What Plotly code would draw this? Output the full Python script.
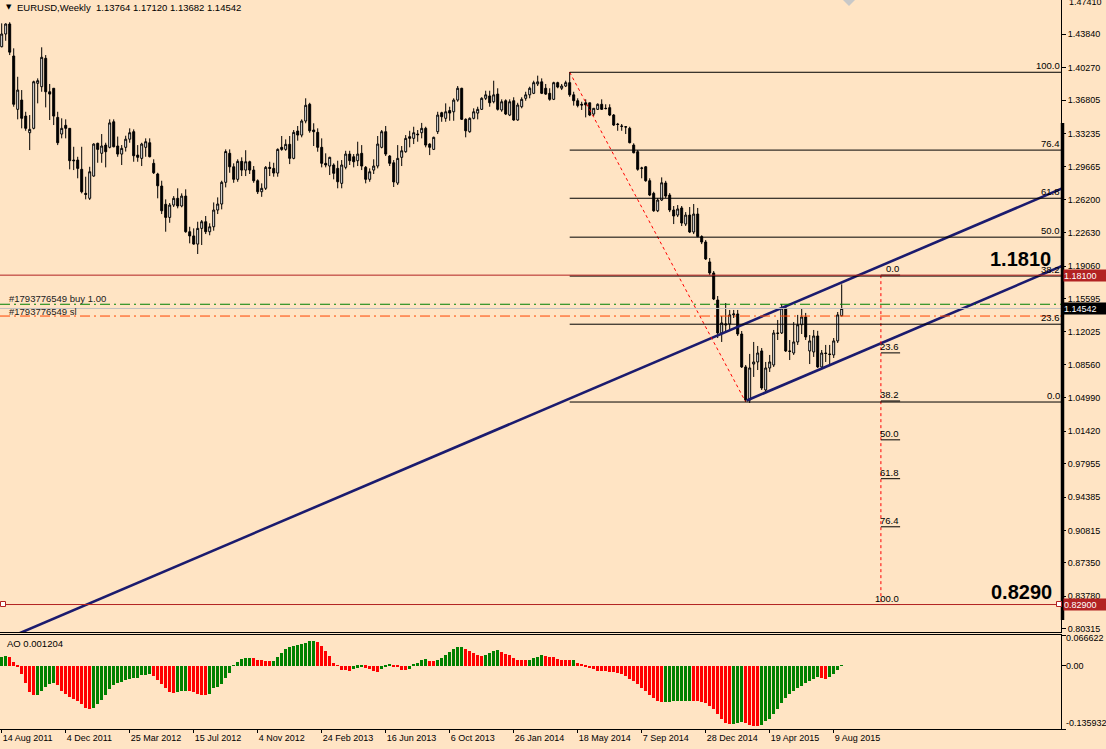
import pandas as pd
import plotly.graph_objects as go

# ---------------- data ----------------
weeks = pd.date_range("2011-08-14", periods=211, freq="7D")

opens = [1.4251,1.4387,1.4494,1.4152,1.3582,1.3681,1.3510,1.3332,1.3379,1.3860,
         1.3824,1.4127,1.3770,1.3807,1.3496,1.3318,1.3411,1.3379,1.3040,1.3040,
         1.2941,1.2684,1.2631,1.2869,1.3219,1.3112,1.3200,1.3176,1.3449,1.3190,
         1.3104,1.3176,1.3263,1.3343,1.3093,1.3058,1.3176,1.3225,1.3005,1.2891,
         1.2762,1.2567,1.2427,1.2559,1.2631,1.2549,1.2655,1.2274,1.2229,1.2142,
         1.2310,1.2381,1.2274,1.2327,1.2506,1.2570,1.2802,1.3112,1.2968,1.2834,
         1.3026,1.2933,1.3022,1.2933,1.2819,1.2701,1.2738,1.2962,1.2951,1.2901,
         1.3176,1.3154,1.3208,1.3058,1.3350,1.3307,1.3457,1.3636,1.3361,1.3336,
         1.3176,1.3005,1.2976,1.2987,1.2951,1.2791,1.2962,1.3104,1.3075,1.3033,
         1.3112,1.2962,1.2834,1.2933,1.2976,1.3176,1.3343,1.3083,1.3011,1.2794,
         1.3069,1.3129,1.3290,1.3272,1.3318,1.3332,1.3379,1.3211,1.3154,1.3343,
         1.3546,1.3486,1.3569,1.3556,1.3681,1.3807,1.3475,1.3343,1.3486,1.3542,
         1.3582,1.3700,1.3725,1.3663,1.3745,1.3575,1.3674,1.3521,1.3674,1.3468,
         1.3610,1.3700,1.3737,1.3753,1.3853,1.3876,1.3807,1.3753,1.3689,1.3867,
         1.3807,1.3831,1.3867,1.3737,1.3674,1.3636,1.3652,1.3652,1.3532,1.3582,
         1.3636,1.3593,1.3600,1.3521,1.3425,1.3404,1.3396,1.3379,1.3200,1.3129,
         1.2951,1.2968,1.2819,1.2684,1.2498,1.2613,1.2795,1.2666,1.2506,1.2452,
         1.2528,1.2356,1.2452,1.2271,1.2463,1.2222,1.2164,1.1951,1.1833,1.1544,
         1.1192,1.1277,1.1288,1.1385,1.1395,1.1181,1.0829,1.0476,1.0860,1.0882,
         1.1000,1.0583,1.0818,1.0850,1.1192,1.1192,1.1459,1.1000,1.0978,1.1096,
         1.1280,1.1363,1.1000,1.0989,1.1160,1.0829,1.0978,1.0968,1.0957,1.1107,
         1.13764]
highs = [1.4501,1.4501,1.4513,1.4234,1.3930,1.3788,1.3556,1.3521,1.3888,1.3913,
         1.4245,1.4162,1.3853,1.3807,1.3556,1.3486,1.3475,1.3379,1.3182,1.3075,
         1.3182,1.2862,1.2968,1.3219,1.3225,1.3318,1.3225,1.3475,1.3475,1.3291,
         1.3200,1.3300,1.3379,1.3368,1.3200,1.3225,1.3272,1.3272,1.3048,1.2904,
         1.2819,1.2620,1.2581,1.2655,1.2738,1.2684,1.2727,1.2327,1.2310,1.2381,
         1.2399,1.2442,1.2364,1.2587,1.2641,1.2819,1.3154,1.3154,1.3005,1.3048,
         1.3069,1.3145,1.3033,1.2976,1.2834,1.2791,1.2976,1.3022,1.3011,1.3165,
         1.3297,1.3261,1.3297,1.3361,1.3404,1.3475,1.3700,1.3652,1.3433,1.3379,
         1.3272,1.3112,1.3075,1.3005,1.3033,1.3040,1.3139,1.3139,1.3104,1.3236,
         1.3200,1.2976,1.2951,1.3048,1.3297,1.3361,1.3404,1.3093,1.3040,1.3200,
         1.3190,1.3307,1.3353,1.3396,1.3361,1.3437,1.3396,1.3219,1.3290,1.3556,
         1.3556,1.3646,1.3610,1.3700,1.3831,1.3812,1.3486,1.3496,1.3593,1.3610,
         1.3711,1.3781,1.3781,1.3888,1.3807,1.3689,1.3689,1.3689,1.3711,1.3652,
         1.3711,1.3770,1.3824,1.3888,1.3942,1.3913,1.3853,1.3807,1.3877,1.3877,
         1.3853,1.3888,1.3981,1.3770,1.3700,1.3663,1.3689,1.3652,1.3596,1.3646,
         1.3689,1.3636,1.3636,1.3532,1.3437,1.3425,1.3404,1.3396,1.3219,1.3147,
         1.2968,1.2976,1.2845,1.2701,1.2634,1.2855,1.2818,1.2687,1.2549,1.2559,
         1.2549,1.2484,1.2538,1.2570,1.2528,1.2236,1.2185,1.1993,1.1854,1.1587,
         1.1374,1.1512,1.1438,1.1438,1.1438,1.1213,1.0850,1.0968,1.1096,1.1053,
         1.1031,1.0882,1.0957,1.1224,1.1331,1.1502,1.1480,1.1117,1.1309,1.1385,
         1.1448,1.1406,1.1170,1.1224,1.1215,1.1010,1.1064,1.1064,1.1138,1.1416,
         1.17120]
lows = [1.4245,1.4315,1.4162,1.3610,1.3475,1.3379,1.3353,1.3147,1.3368,1.3646,
        1.3770,1.3603,1.3468,1.3414,1.3200,1.3272,1.3272,1.2941,1.2933,1.2845,
        1.2684,1.2620,1.2613,1.2862,1.3011,1.3011,1.2962,1.3165,1.3176,1.3075,
        1.2987,1.3131,1.3225,1.3022,1.3022,1.2976,1.3075,1.3069,1.2891,1.2631,
        1.2463,1.2274,1.2370,1.2538,1.2524,1.2535,1.2263,1.2150,1.2135,1.2036,
        1.2132,1.2249,1.2236,1.2285,1.2463,1.2513,1.2748,1.2904,1.2797,1.2808,
        1.2869,1.2869,1.2891,1.2797,1.2677,1.2647,1.2720,1.2869,1.2862,1.2862,
        1.3139,1.3139,1.2997,1.3048,1.3247,1.3283,1.3433,1.3332,1.3190,1.3129,
        1.2962,1.2962,1.2880,1.2834,1.2738,1.2738,1.2941,1.2987,1.2962,1.2976,
        1.2933,1.2791,1.2808,1.2891,1.2951,1.3165,1.3083,1.2976,1.2752,1.2773,
        1.2976,1.3118,1.3176,1.3211,1.3236,1.3272,1.3176,1.3093,1.3147,1.3318,
        1.3449,1.3449,1.3460,1.3460,1.3663,1.3468,1.3283,1.3332,1.3475,1.3475,
        1.3575,1.3681,1.3610,1.3646,1.3569,1.3556,1.3521,1.3510,1.3460,1.3460,
        1.3593,1.3674,1.3700,1.3745,1.3831,1.3745,1.3737,1.3674,1.3681,1.3807,
        1.3788,1.3820,1.3716,1.3622,1.3603,1.3575,1.3496,1.3510,1.3510,1.3575,
        1.3575,1.3582,1.3510,1.3404,1.3353,1.3353,1.3318,1.3219,1.3112,1.2926,
        1.2845,1.2808,1.2655,1.2487,1.2484,1.2602,1.2634,1.2484,1.2356,1.2431,
        1.2335,1.2335,1.2260,1.2249,1.2215,1.2142,1.1972,1.1812,1.1544,1.1138,
        1.1096,1.1192,1.1224,1.1352,1.1160,1.0818,1.0454,1.0444,1.0722,1.0796,
        1.0583,1.0561,1.0775,1.0829,1.1117,1.1181,1.0989,1.0903,1.0957,1.1064,
        1.1181,1.1117,1.0860,1.0936,1.0818,1.0807,1.0882,1.0860,1.0925,1.1085,
        1.13682]
closes = [1.4387,1.4494,1.4193,1.3636,1.3788,1.3486,1.3379,1.3368,1.3877,1.3888,
          1.4138,1.3770,1.3745,1.3510,1.3225,1.3379,1.3379,1.3033,1.3033,1.2951,
          1.2701,1.2673,1.2915,1.3211,1.3154,1.3190,1.3129,1.3437,1.3182,1.3104,
          1.3165,1.3263,1.3332,1.3086,1.3069,1.3211,1.3236,1.3075,1.2904,1.2765,
          1.2498,1.2427,1.2559,1.2631,1.2549,1.2655,1.2274,1.2229,1.2142,1.2310,
          1.2381,1.2274,1.2327,1.2506,1.2570,1.2802,1.3131,1.2968,1.2834,1.3026,
          1.2933,1.3022,1.2933,1.2819,1.2701,1.2738,1.2962,1.2951,1.2901,1.3154,
          1.3154,1.3208,1.3058,1.3336,1.3307,1.3457,1.3625,1.3353,1.3343,1.3176,
          1.3005,1.2987,1.3069,1.2898,1.2808,1.2987,1.3104,1.3033,1.3022,1.3104,
          1.2976,1.2834,1.2915,1.2976,1.3211,1.3343,1.3104,1.3005,1.2806,1.3058,
          1.3139,1.3272,1.3272,1.3332,1.3311,1.3379,1.3200,1.3176,1.3283,1.3521,
          1.3503,1.3556,1.3542,1.3681,1.3807,1.3475,1.3353,1.3486,1.3556,1.3582,
          1.3700,1.3737,1.3652,1.3737,1.3582,1.3663,1.3532,1.3663,1.3468,1.3628,
          1.3689,1.3737,1.3807,1.3867,1.3876,1.3753,1.3745,1.3689,1.3867,1.3820,
          1.3831,1.3867,1.3737,1.3674,1.3622,1.3628,1.3628,1.3521,1.3593,1.3636,
          1.3582,1.3590,1.3521,1.3414,1.3420,1.3400,1.3393,1.3225,1.3118,1.2941,
          1.2955,1.2819,1.2666,1.2498,1.2613,1.2797,1.2655,1.2506,1.2442,1.2517,
          1.2367,1.2452,1.2271,1.2463,1.2222,1.2164,1.1983,1.1833,1.1555,1.1192,
          1.1299,1.1288,1.1385,1.1395,1.1181,1.0829,1.0476,1.0818,1.0882,1.0978,
          1.0604,1.0818,1.0882,1.1192,1.1188,1.1459,1.1000,1.0995,1.1096,1.1280,
          1.1363,1.1149,1.1107,1.1160,1.0829,1.0978,1.0973,1.0962,1.1107,1.1385,
          1.14542]

ao = [0.0203,0.0218,0.0182,0.0087,-0.0007,-0.0182,-0.0363,-0.0566,-0.0624,-0.0617,
      -0.0545,-0.0457,-0.0392,-0.0378,-0.0414,-0.0545,-0.0603,-0.0668,-0.0704,-0.0762,
      -0.0820,-0.0908,-0.0922,-0.0908,-0.0820,-0.0726,-0.0617,-0.0508,-0.0421,-0.0363,
      -0.0341,-0.0312,-0.0276,-0.0269,-0.0254,-0.0203,-0.0189,-0.0182,-0.0218,-0.0312,
      -0.0399,-0.0472,-0.0566,-0.0581,-0.0566,-0.0545,-0.0530,-0.0545,-0.0559,-0.0603,
      -0.0617,-0.0624,-0.0603,-0.0486,-0.0457,-0.0385,-0.0254,-0.0145,0.0015,0.0094,
      0.0145,0.0160,0.0174,0.0160,0.0138,0.0123,0.0109,0.0102,0.0116,0.0182,
      0.0276,0.0363,0.0399,0.0436,0.0457,0.0472,0.0494,0.0530,0.0545,0.0508,
      0.0436,0.0327,0.0218,0.0073,0.0015,-0.0087,-0.0094,-0.0102,-0.0073,-0.0036,
      -0.0007,-0.0036,-0.0073,-0.0116,-0.0123,-0.0058,-0.0015,0.0022,-0.0007,-0.0022,
      -0.0087,-0.0094,-0.0073,0.0022,0.0073,0.0138,0.0145,0.0116,0.0109,0.0138,
      0.0167,0.0225,0.0290,0.0363,0.0407,0.0414,0.0363,0.0319,0.0276,0.0225,
      0.0218,0.0240,0.0283,0.0327,0.0334,0.0298,0.0261,0.0225,0.0174,0.0138,
      0.0131,0.0123,0.0138,0.0167,0.0203,0.0225,0.0218,0.0203,0.0196,0.0152,
      0.0138,0.0131,0.0123,0.0131,0.0065,0.0029,-0.0007,-0.0044,-0.0073,-0.0102,
      -0.0109,-0.0116,-0.0123,-0.0131,-0.0145,-0.0182,-0.0218,-0.0276,-0.0327,-0.0399,
      -0.0472,-0.0545,-0.0617,-0.0690,-0.0748,-0.0784,-0.0777,-0.0770,-0.0762,-0.0759,
      -0.0755,-0.0751,-0.0748,-0.0755,-0.0762,-0.0770,-0.0799,-0.0871,-0.0937,-0.1045,
      -0.1154,-0.1227,-0.1249,-0.1241,-0.1220,-0.1198,-0.1227,-0.1263,-0.1285,-0.1292,
      -0.1263,-0.1191,-0.1133,-0.1045,-0.0937,-0.0791,-0.0682,-0.0610,-0.0537,-0.0465,
      -0.0428,-0.0378,-0.0319,-0.0276,-0.0240,-0.0269,-0.0276,-0.0247,-0.0174,-0.0094,
      0.001204]

tick_labels = ["14 Aug 2011", "4 Dec 2011", "25 Mar 2012", "15 Jul 2012", "4 Nov 2012",
               "24 Feb 2013", "16 Jun 2013", "6 Oct 2013", "26 Jan 2014", "18 May 2014",
               "7 Sep 2014", "28 Dec 2014", "19 Apr 2015", "9 Aug 2015"]
price_ticks = [1.47410, 1.43840, 1.40270, 1.36805, 1.33235, 1.29665, 1.26200, 1.22630,
               1.19060, 1.15595, 1.12025, 1.08560, 1.04990, 1.01420, 0.97955, 0.94385,
               0.90815, 0.87350, 0.83780, 0.80315]
price_tick_text = ["%.5f" % v for v in price_ticks]

ao_ticks = [0.066622, 0.0, -0.135932]
ao_tick_text = ["0.066622", "0.00", "-0.135932"]

# drawn objects
fib_levels = [0.0, 23.6, 38.2, 50.0, 61.8, 76.4, 100.0]
fib_high, fib_low = 1.3978, 1.0454          # retracement anchors
fib_high_week, fib_low_week = 142, 186
exp_top, exp_bottom = 1.1810, 0.8290        # expansion anchors
exp_week, exp_week_end = 219.8, 224.6
channel_upper = [(0.0, 0.7902), (265.0, 1.2735)]
channel_lower = [(186.25, 1.0470), (265.0, 1.1906)]
resistance, target = 1.18100, 0.82900
bid = 1.14542
order_price, order_sl = 1.14990, 1.13730
header = "EURUSD,Weekly  1.13764 1.17120 1.13682 1.14542"
ao_title = "AO 0.001204"

# ---------------- layout helpers ----------------
W, H = 1106, 749
PLOT_R = 1061      # right edge of plot area
PLOT_B = 729       # bottom of plot area
t0 = weeks[0]
def wk(k):
    return t0 + pd.Timedelta(days=7 * k)
def px(xp):
    return xp / PLOT_R
def py(yp):
    return (PLOT_B - yp) / PLOT_B

x_left, x_right = wk(-0.425), wk(264.825)
y_main = [0.79963, 1.47505]

FONT = "Liberation Sans, Arial, sans-serif"
fs = 9.5      # chart texts
fst = 9       # scale labels
RED = "#B22222"
NAVY = "#1B1B6E"

fig = go.Figure()

fig.add_trace(go.Candlestick(
    x=weeks, open=opens, high=highs, low=lows, close=closes,
    increasing=dict(line=dict(color="black", width=1), fillcolor="white"),
    decreasing=dict(line=dict(color="black", width=1), fillcolor="black"),
    whiskerwidth=0, hoverinfo="skip", showlegend=False, xaxis="x", yaxis="y"))

colors = ["#008000"]
for i in range(1, len(ao)):
    colors.append("#008000" if ao[i] > ao[i - 1] else "#FF0000")
fig.add_trace(go.Bar(x=weeks, y=ao, marker=dict(color=colors, line=dict(width=0)),
                     width=0.78 * 7 * 86400000, showlegend=False, hoverinfo="skip",
                     xaxis="x2", yaxis="y2"))

# channel lines
for pts in (channel_upper, channel_lower):
    fig.add_trace(go.Scatter(x=[wk(pts[0][0]), wk(pts[1][0])], y=[pts[0][1], pts[1][1]],
                             mode="lines", line=dict(color=NAVY, width=2.6),
                             showlegend=False, hoverinfo="skip", xaxis="x", yaxis="y"))
# fibo trend line
fig.add_trace(go.Scatter(x=[wk(fib_high_week), wk(fib_low_week)], y=[fib_high, fib_low],
                         mode="lines", line=dict(color="red", width=1, dash="dot"),
                         showlegend=False, hoverinfo="skip", xaxis="x", yaxis="y"))
# expansion vertical
fig.add_trace(go.Scatter(x=[wk(exp_week), wk(exp_week)], y=[exp_top, exp_bottom],
                         mode="lines", line=dict(color="red", width=1, dash="dot"),
                         showlegend=False, hoverinfo="skip", xaxis="x", yaxis="y"))

shapes = []
annotations = []

# fib retracement levels
for lv in fib_levels:
    p = fib_low + (fib_high - fib_low) * lv / 100.0
    shapes.append(dict(type="line", xref="x", yref="y", x0=wk(fib_high_week), x1=x_right,
                       y0=p, y1=p, line=dict(color="black", width=1)))
    annotations.append(dict(xref="paper", yref="y", x=1.0, y=p, xanchor="right",
                            yanchor="bottom", text="%.1f" % lv, showarrow=False,
                            font=dict(family=FONT, size=fs, color="black"), borderpad=0))
# fib expansion levels
for lv in fib_levels:
    p = exp_top - (exp_top - exp_bottom) * lv / 100.0
    shapes.append(dict(type="line", xref="x", yref="y", x0=wk(exp_week), x1=wk(exp_week_end),
                       y0=p, y1=p, line=dict(color="black", width=1)))
    annotations.append(dict(xref="x", yref="y", x=wk(exp_week_end), y=p, xanchor="right",
                            yanchor="bottom", text="%.1f" % lv, showarrow=False,
                            font=dict(family=FONT, size=fs, color="black"), borderpad=0))

def hline(price, color, dash="solid", width=1):
    shapes.append(dict(type="line", xref="paper", yref="y", x0=0, x1=1, y0=price, y1=price,
                       line=dict(color=color, width=width, dash=dash), layer="above"))

hline(bid, "#C0C0C0")
hline(resistance, RED)
hline(target, RED)
hline(order_price, "#008000", dash="10px,4px,2px,4px")
hline(order_sl, "#FF4500", dash="10px,4px,2px,4px")

# thick right bar
shapes.append(dict(type="line", xref="paper", yref="y", x0=px(1062.5), x1=px(1062.5),
                   y0=1.3436, y1=0.8125, line=dict(color="black", width=3.5)))
# small squares on target line
for xp_ in (3, 1059):
    shapes.append(dict(type="rect", xref="paper", yref="paper", x0=px(xp_ - 2.5), x1=px(xp_ + 2.5),
                       y0=py(601.5), y1=py(606.5), line=dict(color=RED, width=1),
                       fillcolor="white"))
# chart shift marker
shapes.append(dict(type="path", xref="paper", yref="paper",
                   path="M %f,%f L %f,%f L %f,%f Z" % (px(843), py(0), px(855), py(0), px(849), py(6)),
                   fillcolor="#C8C8C8", line=dict(width=0)))

# price tags on axis
for price, txt, bg in ((resistance, "1.18100", RED), (bid, "1.14542", "black"), (target, "0.82900", RED)):
    annotations.append(dict(xref="paper", yref="y", x=px(1062.5), y=price, xanchor="left",
                            yanchor="middle", text=txt, showarrow=False, bgcolor=bg,
                            width=42, height=11, borderpad=0, align="left",
                            font=dict(family=FONT, size=fst, color="white")))
# top scale label (cut by the top edge, as on the terminal)
annotations.append(dict(xref="paper", yref="paper", x=px(1067), y=py(1.5), xanchor="left",
                        yanchor="middle", text=price_tick_text[0], showarrow=False,
                        font=dict(family=FONT, size=fst, color="black")))

# big level texts
annotations.append(dict(xref="paper", yref="paper", x=px(1020), y=py(259), text="<b>1.1810</b>",
                        xanchor="center", yanchor="middle", showarrow=False,
                        font=dict(family=FONT, size=20, color="black")))
annotations.append(dict(xref="paper", yref="paper", x=px(1021), y=py(591.5), text="<b>0.8290</b>",
                        xanchor="center", yanchor="middle", showarrow=False,
                        font=dict(family=FONT, size=20, color="black")))
# order labels
annotations.append(dict(xref="paper", yref="paper", x=px(7), y=py(298.5), xanchor="left",
                        yanchor="middle", text="#1793776549 buy 1.00", showarrow=False,
                        font=dict(family=FONT, size=fs, color="#202020")))
annotations.append(dict(xref="paper", yref="paper", x=px(7), y=py(311), xanchor="left",
                        yanchor="middle", text="#1793776549 sl", showarrow=False,
                        font=dict(family=FONT, size=fs, color="#202020")))
# header
annotations.append(dict(xref="paper", yref="paper", x=px(4), y=py(6.5), xanchor="left",
                        yanchor="middle", text="▼", showarrow=False,
                        font=dict(family="DejaVu Sans", size=7, color="black")))
annotations.append(dict(xref="paper", yref="paper", x=px(15), y=py(7.5), xanchor="left",
                        yanchor="middle", text=header, showarrow=False,
                        font=dict(family=FONT, size=fs, color="black")))
annotations.append(dict(xref="paper", yref="paper", x=px(5), y=py(643.5), xanchor="left",
                        yanchor="middle", text=ao_title, showarrow=False,
                        font=dict(family=FONT, size=fs, color="black")))
# AO scale labels
for v, txt, ypix in zip(ao_ticks, ao_tick_text, (637.5, 665.5, 722.5)):
    annotations.append(dict(xref="paper", yref="paper", x=px(1064), y=py(ypix), xanchor="left",
                            yanchor="middle", text=txt, showarrow=False,
                            font=dict(family=FONT, size=fst, color="black")))

BG = "#FFE4C4"
axis_common = dict(showgrid=False, zeroline=False, linecolor="black", linewidth=1)
fig.update_layout(
    width=W, height=H, margin=dict(l=0, r=W - PLOT_R, t=0, b=H - PLOT_B),
    paper_bgcolor=BG, plot_bgcolor=BG, showlegend=False, bargap=0,
    font=dict(family=FONT, size=fs, color="black"),
    xaxis=dict(domain=[0, 1], anchor="y", range=[x_left, x_right], type="date",
               showticklabels=False, ticks="", showline=True,
               rangeslider=dict(visible=False), **axis_common),
    yaxis=dict(domain=[py(632), 1], anchor="x", side="right", range=y_main,
               tickvals=price_ticks[1:], ticktext=price_tick_text[1:], ticks="outside", ticklen=4,
               tickcolor="black", showline=True, mirror=True,
               tickfont=dict(family=FONT, size=fst, color="black"), **axis_common),
    xaxis2=dict(domain=[0, 1], anchor="y2", matches="x", range=[x_left, x_right], type="date",
                tickvals=list(weeks[::16]), ticktext=tick_labels, ticks="outside", ticklen=3,
                tickcolor="black", ticklabelposition="outside right", showline=True, mirror=True,
                tickfont=dict(family=FONT, size=fst, color="black"), **axis_common),
    yaxis2=dict(domain=[0, py(635)], anchor="x2", side="right", range=[-0.135932, 0.066622],
                tickvals=ao_ticks, showticklabels=False, ticks="outside", ticklen=4,
                tickcolor="black", showline=True, mirror=True, **axis_common),
    shapes=shapes, annotations=annotations,
)

fig.write_html("out.html", config={"displayModeBar": False},
               post_script="document.body.style.margin='0';document.body.style.overflow='hidden';")
